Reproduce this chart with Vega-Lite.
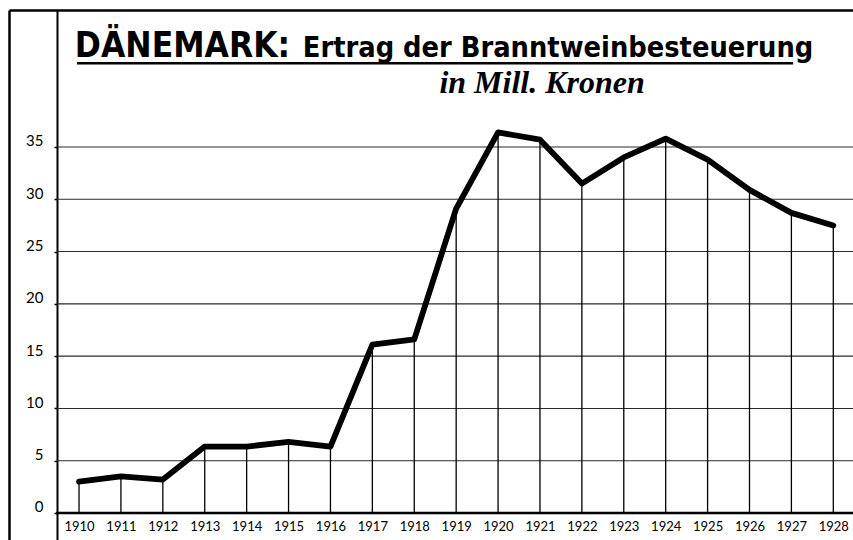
{
  "$schema": "https://vega.github.io/schema/vega-lite/v6.json",
  "width": 844,
  "height": 530,
  "autosize": {"type": "none"},
  "padding": {"left": 9, "top": 10, "right": 0, "bottom": 0},
  "background": "white",
  "config": {"view": {"stroke": null}, "axis": {"labelColor": "black", "domainColor": "black", "tickColor": "black"}},
  "datasets": {
    "revenue": [
      {"year": 1910, "value": 3.0},
      {"year": 1911, "value": 3.5},
      {"year": 1912, "value": 3.2},
      {"year": 1913, "value": 6.35},
      {"year": 1914, "value": 6.35},
      {"year": 1915, "value": 6.8},
      {"year": 1916, "value": 6.35},
      {"year": 1917, "value": 16.1},
      {"year": 1918, "value": 16.6},
      {"year": 1919, "value": 29.1},
      {"year": 1920, "value": 36.4},
      {"year": 1921, "value": 35.7},
      {"year": 1922, "value": 31.5},
      {"year": 1923, "value": 34.0},
      {"year": 1924, "value": 35.8},
      {"year": 1925, "value": 33.8},
      {"year": 1926, "value": 30.9},
      {"year": 1927, "value": 28.7},
      {"year": 1928, "value": 27.5}
    ],
    "grid": [{"g": 5}, {"g": 10}, {"g": 15}, {"g": 20}, {"g": 25}, {"g": 30}, {"g": 35}],
    "titles": [
      {"t": "DÄNEMARK:", "x": 1909.9, "size": "big"},
      {"t": "Ertrag der Branntweinbesteuerung", "x": 1915.34, "size": "small"}
    ]
  },
  "resolve": {"axis": {"x": "independent", "y": "independent"}},
  "layer": [
    {
      "data": {"name": "grid"},
      "mark": {"type": "rule", "color": "#2a2a2a", "strokeWidth": 1.1},
      "encoding": {
        "y": {"field": "g", "type": "quantitative",
          "scale": {"domain": [-2.582, 48.1], "zero": false, "nice": false},
          "axis": {"orient": "left", "offset": -48, "values": [0, 5, 10, 15, 20, 25, 30, 35], "title": null, "grid": false,
            "domainWidth": 2, "tickSize": 3, "tickWidth": 1.5, "labelPadding": 11, "labelFont": "Lato", "labelFontSize": 15,
            "labelBaseline": "alphabetic", "labelOffset": -1, "labelFlush": false, "labelOverlap": false}},
        "x": {"datum": 1909.47, "type": "quantitative",
          "scale": {"domain": [1908.329, 1928.47], "zero": false, "nice": false},
          "axis": {"orient": "bottom", "offset": -27, "values": [1910, 1911, 1912, 1913, 1914, 1915, 1916, 1917, 1918, 1919, 1920, 1921, 1922, 1923, 1924, 1925, 1926, 1927, 1928],
            "format": "d", "title": null, "grid": false, "domain": false, "ticks": false, "labelPadding": 7, "labelFont": "Lato", "labelFontSize": 13, "labelFlush": false, "labelOverlap": false}},
        "x2": {"datum": 1928.47}
      }
    },
    {
      "data": {"name": "revenue"},
      "mark": {"type": "rule", "color": "black", "strokeWidth": 1.3},
      "encoding": {
        "x": {"field": "year", "type": "quantitative",
          "axis": {"orient": "top", "labels": false, "ticks": false, "grid": false, "domain": true, "domainWidth": 2.5, "title": null}},
        "y": {"field": "value", "type": "quantitative",
          "axis": {"orient": "left", "offset": 0, "labels": false, "ticks": false, "grid": false, "domain": true, "domainWidth": 2.5, "title": null}},
        "y2": {"datum": 0}
      }
    },
    {
      "data": {"values": [{}]},
      "mark": {"type": "rule", "color": "black", "strokeWidth": 2.5},
      "encoding": {
        "y": {"datum": 0, "type": "quantitative", "axis": null},
        "x": {"datum": 1909.45, "type": "quantitative", "axis": null},
        "x2": {"datum": 1928.47}
      }
    },
    {
      "data": {"name": "revenue"},
      "mark": {"type": "line", "color": "black", "strokeWidth": 5.8, "strokeJoin": "round", "strokeCap": "round"},
      "encoding": {
        "x": {"field": "year", "type": "quantitative", "axis": null},
        "y": {"field": "value", "type": "quantitative", "axis": null}
      }
    },
    {
      "data": {"name": "titles"},
      "mark": {"type": "text", "align": "left", "baseline": "alphabetic", "font": "DejaVu Sans Condensed", "fontWeight": "bold", "color": "black"},
      "encoding": {
        "text": {"field": "t"},
        "x": {"field": "x", "type": "quantitative", "axis": null},
        "y": {"datum": 43.6, "type": "quantitative", "axis": null},
        "size": {"field": "size", "type": "nominal", "scale": {"domain": ["big", "small"], "range": [35, 28.7]}, "legend": null}
      }
    },
    {
      "data": {"values": [{"a": 1909.95, "b": 1927.04}]},
      "mark": {"type": "rule", "color": "black", "strokeWidth": 2.5},
      "encoding": {
        "x": {"field": "a", "type": "quantitative", "axis": null},
        "x2": {"field": "b"},
        "y": {"datum": 43.0, "type": "quantitative", "axis": null}
      }
    },
    {
      "data": {"values": [{"t": "in Mill. Kronen"}]},
      "mark": {"type": "text", "align": "left", "baseline": "alphabetic", "font": "Liberation Serif", "fontStyle": "italic", "fontWeight": "bold", "fontSize": 32, "color": "black"},
      "encoding": {
        "text": {"field": "t"},
        "x": {"datum": 1918.6, "type": "quantitative", "axis": null},
        "y": {"datum": 40.16, "type": "quantitative", "axis": null}
      }
    }
  ]
}
